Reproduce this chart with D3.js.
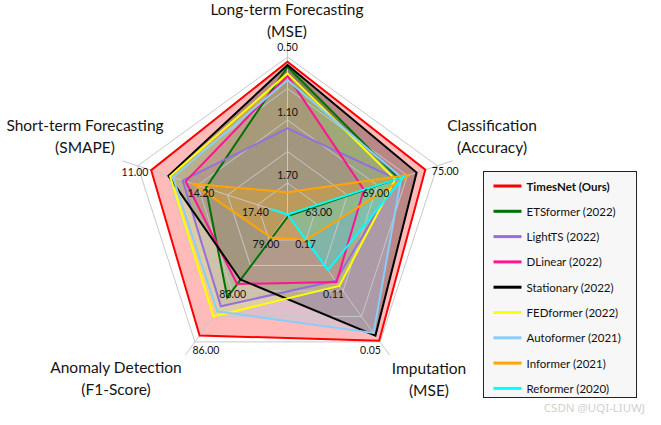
<!DOCTYPE html>
<html><head><meta charset="utf-8">
<script src="https://cdn.jsdelivr.net/npm/d3@7"></script>
<style>body{margin:0;background:#fff}svg{display:block}</style>
</head><body><svg id="c" width="661" height="425"></svg>
<script>
// Axes (clockwise from top)
const axisTitles = [
  ["Long-term Forecasting", "(MSE)"],
  ["Classification", "(Accuracy)"],
  ["Imputation", "(MSE)"],
  ["Anomaly Detection", "(F1-Score)"],
  ["Short-term Forecasting", "(SMAPE)"]
];
// value at centre, value at outer ring
const axisDomains = [[2.00, 0.50], [60, 75], [0.20, 0.05], [77.25, 86], [19, 11]];
// tick labels at rings 1.0, 0.6, 0.2
const tickLevels = [1.0, 0.6, 0.2];
const tickLabels = [
  ["0.50", "1.10", "1.70"],
  ["75.00", "69.00", "63.00"],
  ["0.05", "0.11", "0.17"],
  ["86.00", "83.00", "79.00"],
  ["11.00", "14.20", "17.40"]
];
const models = ["TimesNet (Ours)", "ETSformer (2022)", "LightTS (2022)", "DLinear (2022)", "Stationary (2022)", "FEDformer (2022)", "Autoformer (2021)", "Informer (2021)", "Reformer (2020)"];
const colors = ["#ff0000", "#007000", "#9370db", "#ff1493", "#000000", "#ffff00", "#87cefa", "#ffa500", "#00ffff"];
// values: [long-term MSE, classification acc, imputation MSE, anomaly F1, short-term SMAPE]
const timesnet   = [0.545, 73.80, 0.0515, 85.56, 11.72];
const etsformer  = [0.593, 71.13, 0.1985, 82.94, 14.64];
const lightts    = [1.180, 70.95, 0.1220, 83.55, 13.40];
const dlinear    = [0.680, 67.65, 0.1205, 82.02, 13.56];
const stationary = [0.577, 72.93, 0.0575, 81.71, 12.64];
const fedformer  = [0.656, 70.80, 0.1160, 84.25, 12.73];
const autoformer = [0.719, 71.40, 0.0605, 83.90, 12.88];
const informer   = [1.789, 72.23, 0.1700, 78.83, 13.95];
const reformer   = [2.000, 71.66, 0.1345, 77.25, 18.10];
const seriesValues = [timesnet, etsformer, lightts, dlinear, stationary, fedformer, autoformer, informer, reformer];

const cx = 287.5, cy = 214.5, R = 157.5;
const svg = d3.select("#c");
const g = svg.append("g").attr("transform", `translate(${cx},${cy})`);
const n = axisTitles.length;
const ang = i => i * 2 * Math.PI / n;
const scales = axisDomains.map(d => d3.scaleLinear().domain(d).range([0, R]));
const pt = (i, r) => [r * Math.sin(ang(i)), -r * Math.cos(ang(i))];

const radial = d3.lineRadial().angle((d, i) => ang(i)).radius(d => d).curve(d3.curveLinearClosed);

// fills
seriesValues.forEach((vals, s) => {
  g.append("path").attr("d", radial(vals.map((v, i) => Math.max(0, scales[i](v)))))
    .attr("fill", colors[s]).attr("fill-opacity", 0.27).attr("stroke", "none");
});
// grid rings
[0.2, 0.4, 0.6, 0.8, 1.0].forEach(f => {
  g.append("path").attr("d", radial(d3.range(n).map(() => f * R)))
    .attr("fill", "none").attr("stroke", "#c8c8c8").attr("stroke-width", 1);
});
// spokes
d3.range(n).forEach(i => {
  const [x, y] = pt(i, R + 16);
  g.append("line").attr("x1", 0).attr("y1", 0).attr("x2", x).attr("y2", y)
    .attr("stroke", "#c8c8c8").attr("stroke-width", 1);
});
// series lines
seriesValues.forEach((vals, s) => {
  g.append("path").attr("d", radial(vals.map((v, i) => Math.max(0, scales[i](v)))))
    .attr("fill", "none").attr("stroke", colors[s]).attr("stroke-width", 2)
    .attr("stroke-linejoin", "miter");
});
// tick labels (nudges per axis per level for text layout)
const nudges = [
  [[0, -10], [0, -8.5], [0, -8]],
  [[8, 5], [-1.5, 7.4], [1.3, 7]],
  [[-9.6, 8], [-9.6, 3.3], [-0.5, 4.5]],
  [[11, 8], [0.8, 3.3], [-3, 4.3]],
  [[-2.7, 6], [3.4, 8], [-2.2, 7]]
];
tickLabels.forEach((labs, i) => {
  labs.forEach((lab, k) => {
    const [x, y] = pt(i, tickLevels[k] * R);
    g.append("text").attr("x", x + nudges[i][k][0]).attr("y", y + nudges[i][k][1])
      .attr("text-anchor", "middle").attr("dominant-baseline", "central")
      .attr("font-family", "Lato, 'DejaVu Sans', sans-serif").attr("font-size", 10.5)
      .attr("fill", "#111").text(lab);
  });
});
// axis titles
const titleCenters = [[287, 9], [492, 125], [429, 367.5], [116, 367], [85, 125]];
axisTitles.forEach((lines, i) => {
  lines.forEach((ln, k) => {
    svg.append("text").attr("x", titleCenters[i][0]).attr("y", titleCenters[i][1] + k * 22)
      .attr("text-anchor", "middle").attr("dominant-baseline", "central")
      .attr("font-family", "Lato, 'DejaVu Sans', sans-serif").attr("font-size", 15.5)
      .attr("fill", "#141414").text(ln);
  });
});
// legend
const lg = svg.append("g").attr("transform", "translate(483.5,171.5)");
lg.append("rect").attr("width", 153).attr("height", 226).attr("fill", "#f7f7f7")
  .attr("stroke", "#222").attr("stroke-width", 1);
models.forEach((m, s) => {
  const y = 14.5 + s * 25.3;
  lg.append("line").attr("x1", 10).attr("x2", 38).attr("y1", y).attr("y2", y)
    .attr("stroke", colors[s]).attr("stroke-width", 3);
  lg.append("text").attr("x", 43).attr("y", y).attr("dominant-baseline", "central")
    .attr("font-family", "Lato, 'DejaVu Sans', sans-serif").attr("font-size", 11.5)
    .attr("font-weight", s === 0 ? "bold" : "normal").attr("fill", "#111").text(m);
});
// watermark
svg.append("text").attr("x", 645).attr("y", 407).attr("text-anchor", "end")
  .attr("dominant-baseline", "central").attr("font-family", "'Noto Sans', sans-serif")
  .attr("font-size", 11.5).attr("fill", "#d0d0d0").text("CSDN @UQI-LIUWJ");
</script></body></html>
